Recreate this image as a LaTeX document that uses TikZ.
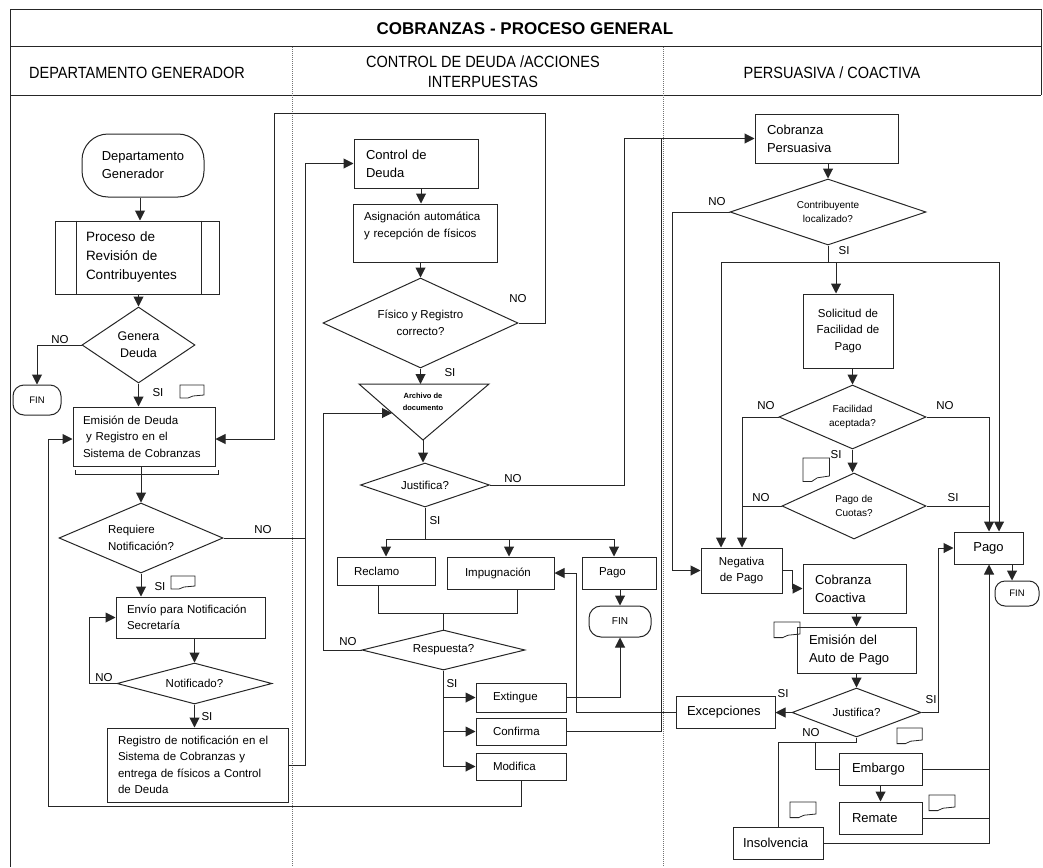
\documentclass[tikz,border=0pt]{standalone}
\usepackage{graphicx}
\usepackage{fontspec}
\setmainfont{Liberation Sans}
\usetikzlibrary{arrows.meta,shapes.geometric,calc}
\newcommand\fntT{\fontsize{17}{20}\selectfont\bfseries}
\newcommand\fntH{\fontsize{14.5}{20}\selectfont}
\newcommand\fntXL{\fontsize{13.5}{19}\selectfont}
\newcommand\fntL{\fontsize{13}{18}\selectfont}
\newcommand\fntG{\fontsize{12.5}{17}\selectfont}
\newcommand\fntM{\fontsize{11.5}{16.5}\selectfont}
\newcommand\fntS{\fontsize{10}{14.5}\selectfont}
\newcommand\fntX{\fontsize{9.5}{11}\selectfont}
\newcommand\fntA{\fontsize{7.5}{11.5}\selectfont\bfseries}
\newcommand\hdr[1]{\scalebox{1}[1.12]{#1}}

\begin{document}
\begin{tikzpicture}[x=1pt,y=-1pt,
  ink/.style={draw=black!85,line width=1pt},
  arr/.style={ink,-{Triangle[length=10pt,width=10pt]}},
  lane/.style={draw=black!55,line width=0.7pt,dash pattern=on 1pt off 1pt},
  bx/.style n args={4}{ink,rectangle,minimum width=#1,minimum height=#2,
    inner xsep=#3,inner ysep=0pt,text width=#4,align=left},
  cbx/.style n args={3}{ink,rectangle,minimum width=#1,minimum height=#2,
    inner xsep=2pt,inner ysep=0pt,text width=#3,align=center},
  term/.style n args={3}{ink,rectangle,rounded corners=#3,minimum width=#1,
    minimum height=#2,inner sep=0pt,align=center},
  dia/.style n args={3}{ink,diamond,minimum width=#1,minimum height=#2,
    aspect=#3,inner sep=0pt,align=center},
  lbl/.style={font=\fntM,inner sep=0pt},
  docicon/.pic={\draw[black!85,line width=0.8pt]
    (0,0) -- (24,0) -- (24,10) -- (13,11) -- (8,13) -- (0,13) -- cycle;}
]
\useasboundingbox (0,0) rectangle (1043,867);

% ---- frame and swimlanes ----
\draw[ink] (10,867) -- (10,10) -- (1041,10) -- (1041,95);
\draw[ink] (10,47) -- (1041,47);
\draw[ink] (10,95) -- (1041,95);
\draw[lane] (292,47) -- (292,867);
\draw[lane] (663,47) -- (663,867);

\node[font=\fntT] (title) at (525,28.5) {COBRANZAS - PROCESO GENERAL};
\node[font=\fntH] (hdA) at (137,73) {\hdr{DEPARTAMENTO GENERADOR}};
\node[font=\fntH,align=center] (hdB) at (483,72)
  {\hdr{CONTROL DE DEUDA /ACCIONES}\\\hdr{INTERPUESTAS}};
\node[font=\fntH] (hdC) at (832,73) {\hdr{PERSUASIVA / COACTIVA}};

% ---- departamento generador ----
\node[term={122}{63}{26},font=\fntL,align=left] (dg) at (143,165.5) {Departamento\\Generador};
\node[bx={164}{73}{31}{102},font=\fntXL] (prc) at (137,257.5) {Proceso de\\Revisión de\\Contribuyentes};
\draw[ink] ($(prc.north west)+(22,0)$) -- ($(prc.south west)+(22,0)$);
\draw[ink] ($(prc.north east)+(-18,0)$) -- ($(prc.south east)+(-18,0)$);
\node[dia={113}{76}{1.49},font=\fntG] (gd) at (138.5,345) {Genera\\Deuda};
\node[term={48}{30}{11},font=\fntX] (finL) at (37,400) {FIN};
\node[bx={142}{59}{10}{122},font=\fntM] (em) at (144,436.5)
  {Emisión de Deuda\\\hspace*{3pt}y Registro en el\\Sistema de Cobranzas};
\node[dia={164}{70}{2.34},font=\fntM,align=left] (rn) at (141,538) {Requiere\\Notificación?};
\node[bx={149}{41}{11}{127},font=\fntM] (env) at (190.5,617.5) {Envío para Notificación\\Secretaría};
\node[dia={155}{41}{3.78},font=\fntM] (nt) at (194.5,683.5) {Notificado?};
\node[bx={181}{74}{11}{159},font=\fntM] (reg) at (197.5,765)
  {Registro de notificación en el\\Sistema de Cobranzas y\\entrega de físicos a Control\\de Deuda};

% ---- control de deuda / acciones interpuestas ----
\node[bx={124}{49}{12}{100},font=\fntL] (cd) at (416,163.5) {Control de\\Deuda};
\node[bx={144}{58}{11}{122},font=\fntM] (asg) at (425,233) {Asignación automática\\y recepción de físicos\\~};
\node[dia={195}{90}{2.17},font=\fntM] (fr) at (420.5,323) {Físico y Registro\\correcto?};
\coordinate (arT) at (423,384);
\coordinate (arL) at (359,384);
\coordinate (arR) at (489,384);
\coordinate (arB) at (423,440);
\coordinate (arIn) at (392,413);
\draw[ink] (arL) -- (arR) -- (arB) -- cycle;
\node[font=\fntA,align=center,inner sep=0pt] (arch) at (423,402) {Archivo de\\documento};
\node[dia={129}{44}{2.93},font=\fntM] (js) at (425,485) {Justifica?};
\node[bx={98}{28}{17}{64},font=\fntM] (rec) at (386,571) {Reclamo};
\node[bx={107}{32}{18}{71},font=\fntM] (imp) at (500.5,573) {Impugnación};
\node[bx={74}{32}{17}{40},font=\fntM] (pagoM) at (619,573) {Pago};
\node[term={62}{31}{12},font=\fntS] (finM) at (620,621.5) {FIN};
\node[dia={163}{40}{4.08},font=\fntM] (resp) at (443.5,650) {Respuesta?};
\node[bx={90}{29}{17}{56},font=\fntM] (ext) at (521,697.5) {Extingue};
\node[bx={90}{27}{17}{56},font=\fntM] (conf) at (521,731.5) {Confirma};
\node[bx={90}{27}{17}{56},font=\fntM] (mod) at (521,766.5) {Modifica};

% ---- persuasiva / coactiva ----
\node[bx={143}{49}{12}{119},font=\fntL] (cp) at (826.5,138.5) {Cobranza\\Persuasiva};
\node[dia={196}{66}{2.97},font=\fntS] (cl) at (828,212) {Contribuyente\\localizado?};
\node[cbx={90}{74}{86},font=\fntM] (sfp) at (848,331) {Solicitud de\\Facilidad de\\Pago};
\node[dia={147}{64}{2.30},font=\fntS] (fa) at (852.5,417) {Facilidad\\aceptada?};
\node[dia={144}{66}{2.18},font=\fntS] (pc) at (854,506) {Pago de\\Cuotas?};
\node[cbx={69}{32}{65},font=\fntL] (pagoR) at (988.5,548) {Pago};
\node[term={44}{25}{10},font=\fntX] (finR) at (1017,593.5) {FIN};
\node[cbx={81}{45}{77},font=\fntM] (neg) at (741.5,570.5) {Negativa\\de Pago};
\node[bx={103}{49}{12}{79},font=\fntL] (cc) at (854.5,588.5) {Cobranza\\Coactiva};
\node[bx={119}{46}{12}{95},font=\fntL] (eap) at (856.5,650) {Emisión del\\Auto de Pago};
\node[dia={129}{49}{2.63},font=\fntM] (jsR) at (856.5,712.5) {Justifica?};
\node[bx={99}{32}{11}{77},font=\fntL] (exc) at (725.5,712) {Excepciones};
\node[bx={83}{32}{13}{57},font=\fntL] (emb) at (880.5,769) {Embargo};
\node[bx={83}{32}{13}{57},font=\fntL] (rem) at (880.5,818) {Remate};
\node[bx={90}{32}{10}{70},font=\fntL] (ins) at (778,843) {Insolvencia};

% ---- connectors: left lane ----
\draw[arr] ($(dg.south)+(-3,0)$) -- ($(dg.south |- prc.north)+(-3,0)$);
\draw[arr] (gd.north |- prc.south) -- (gd.north);
\draw[arr] (gd.west) -| (finL.north);
\node[lbl] (nGd) at (60,340) {NO};
\draw[arr] (gd.south) -- (gd.south |- em.north);
\node[lbl] (sGd) at (158,393) {SI};
\pic at (180,385) {docicon};

\draw[ink] (75,470) -- (75,474) -- (218,474) -- (218,470);
\coordinate (brk) at (141,474);
\draw[ink] (brk |- em.south) -- (brk);
\draw[arr] (brk) -- (brk |- rn.north);

\coordinate (busA) at (305,0);
\draw[ink] (rn.east) -- (rn.east -| busA);
\node[lbl] (nRn) at (263,530) {NO};
\draw[arr] (rn.south) -- (rn.south |- env.north);
\node[lbl] (sRn) at (160,587) {SI};
\pic at (171,576) {docicon};
\draw[arr] (nt.north |- env.south) -- (nt.north);
\draw[arr] (nt.west) -- ++(-27,0) |- (env.west);
\node[lbl] (nNt) at (104,678) {NO};
\draw[arr] (nt.south) -- (nt.south |- reg.north);
\node[lbl] (sNt) at (207,717) {SI};
\draw[arr] (reg.east) -- (reg.east -| busA) |- (cd.west);

\coordinate (lpA) at (48,806);
\draw[arr] (mod.south) |- (lpA) |- ($(em.west)+(0,2.5)$);

\coordinate (fxA) at (545,113);
\coordinate (fxB) at (274,113);
\draw[arr] (fr.east) -| (fxA) -- (fxB) |- ($(em.east)+(0,2.5)$);
\node[lbl] (nFr) at (518,299) {NO};

% ---- connectors: middle lane ----
\draw[arr] ($(cd.south)+(5,0)$) -- ($(cd.south |- asg.north)+(5,0)$);
\draw[arr] (fr.north |- asg.south) -- (fr.north);
\draw[arr] (fr.south) -- (fr.south |- arT);
\node[lbl] (sFr) at (450,373) {SI};
\draw[arr] (arB) -- (arB |- js.north);

\coordinate (busB) at (624,0);
\draw[arr] (js.east) -| (busB |- cp.west) -- (cp.west);
\node[lbl] (nJs) at (513,479) {NO};

\coordinate (sb1) at (386,539);
\coordinate (sb2) at (509,539);
\coordinate (sb3) at (614,539);
\draw[ink] (js.south) -- (js.south |- sb1);
\draw[ink] (sb1) -- (sb3);
\draw[arr] (sb1) -- (sb1 |- rec.north);
\draw[arr] (sb2) -- (sb2 |- imp.north);
\draw[arr] (sb3) -- (sb3 |- pagoM.north);
\node[lbl] (sJs) at (435,521) {SI};
\draw[arr] (finM.north |- pagoM.south) -- (finM.north);

\coordinate (mg) at (443.5,613);
\draw[ink] ($(rec.south)+(-8,0)$) |- (mg);
\draw[ink] ($(imp.south)+(16.5,0)$) |- (mg);
\draw[ink] (mg) -- (resp.north);

\coordinate (busC) at (323,0);
\draw[arr] (resp.west) -| (busC |- arIn) -- (arIn);
\node[lbl] (nResp) at (348,642) {NO};
\draw[arr] (resp.south) |- (mod.west);
\draw[arr] (resp.south |- ext.west) -- (ext.west);
\draw[arr] (resp.south |- conf.west) -- (conf.west);
\node[lbl] (sResp) at (452,684) {SI};
\draw[arr] (ext.east) -| (finM.south);

\coordinate (busE) at (661,0);
\draw[ink] (conf.east) -| (busE |- cp.west);
\coordinate (busF) at (576,0);
\draw[arr] (exc.west) -| (busF |- imp.east) -- (imp.east);

% ---- connectors: right lane ----
\draw[arr] (cl.north |- cp.south) -- (cl.north);
\coordinate (busG) at (672,0);
\draw[arr] (cl.west) -| (busG |- neg.west) -- (neg.west);
\node[lbl] (nCl) at (717,202) {NO};

\coordinate (hb1) at (721,262);
\coordinate (hb2) at (836,262);
\coordinate (hb3) at (999,262);
\draw[ink] (cl.south) -- (cl.south |- hb1);
\draw[ink] (hb1) -- (hb3);
\draw[arr] (hb1) -- (hb1 |- neg.north);
\draw[arr] (hb2) -- (hb2 |- sfp.north);
\draw[arr] (hb3) -- (hb3 |- pagoR.north);
\node[lbl] (sCl) at (844,251) {SI};

\draw[arr] (fa.north |- sfp.south) -- (fa.north);
\coordinate (busN) at (742,0);
\coordinate (busP) at (989,0);
\draw[arr] (fa.west) -| (busN |- neg.north);
\draw[arr] (fa.east) -| (busP |- pagoR.north);
\node[lbl] (nFaL) at (766,406) {NO};
\node[lbl] (nFaR) at (945,406) {NO};
\draw[arr] (fa.south) -- (fa.south |- pc.north);
\node[lbl] (sFa) at (836,455) {SI};
\pic[xscale=1.1,yscale=1.8] at (803,458) {docicon};
\draw[ink] (pc.west) -- (pc.west -| busN);
\draw[ink] (pc.east) -- (pc.east -| busP);
\node[lbl] (nPc) at (761,498) {NO};
\node[lbl] (sPc) at (953,498) {SI};

\draw[arr] ($(finR.north |- pagoR.south)+(-5,0)$) -- ($(finR.north)+(-5,0)$);
\draw[arr] (neg.east) -- ++(10,0) |- (cc.west);
\draw[arr] (eap.north |- cc.south) -- (eap.north);
\pic[xscale=1.08,yscale=1.2] at (774,622) {docicon};
\draw[arr] (eap.south) -- (jsR.north);
\draw[arr] (jsR.west) -- (jsR.west -| exc.east);
\node[lbl] (sJrL) at (783,694) {SI};
\coordinate (busS) at (938,0);
\draw[arr] (jsR.east) -| (busS |- pagoR.west) -- (pagoR.west);
\node[lbl] (sJrR) at (931,700) {SI};

\coordinate (nj) at (856.5,742);
\coordinate (nk) at (815,742);
\draw[ink] (jsR.south) -- (nj) -| (ins.north);
\draw[ink] (nk) |- (emb.west);
\node[lbl] (nJr) at (811,733) {NO};
\pic[xscale=1.05,yscale=1.2] at (897,728) {docicon};

\draw[arr] (emb.south) -- (rem.north);
\draw[ink] (emb.east) -- (emb.east -| busP);
\draw[ink] (rem.east) -- (rem.east -| busP);
\draw[arr] (ins.east) -| (busP |- pagoR.south);
\pic[xscale=1.08,yscale=1.2] at (929,795) {docicon};
\pic[xscale=1.08,yscale=1.2] at (790,802) {docicon};
\end{tikzpicture}
\end{document}
